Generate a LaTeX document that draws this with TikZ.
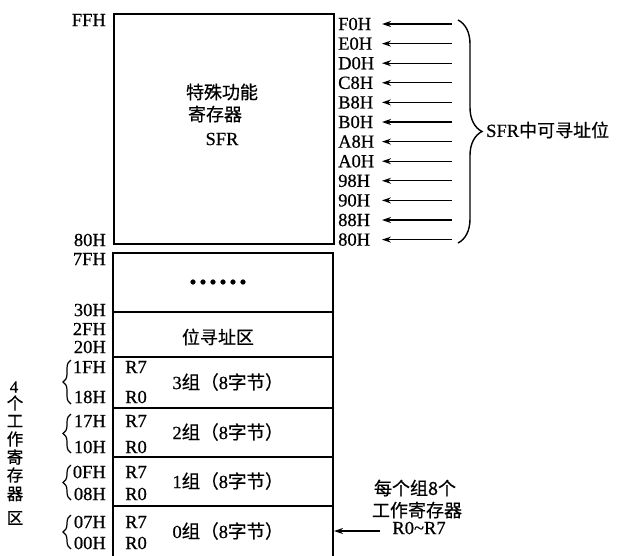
\documentclass[tikz,border=0pt]{standalone}
\usepackage{fontspec}
\setmainfont{Liberation Serif}[FakeBold=0.6]
\newfontfamily\cjk[FakeBold=0.6]{Noto Sans CJK SC}
\usetikzlibrary{arrows.meta,decorations.pathreplacing}
\begin{document}
\begin{tikzpicture}[x=1pt,y=-1pt,
  lat/.style={font=\fontsize{18.5}{20}\selectfont, inner sep=0pt},
  chn/.style={font=\fontsize{18}{20}\selectfont\cjk, inner sep=0pt},
  vch/.style={font=\fontsize{16.5}{17}\selectfont\cjk, inner sep=0pt},
  memline/.style={line width=2.2pt},
  arr/.style={-{Stealth[length=9pt,width=6pt]}, line width=1.3pt},
  bigbrace/.style={decorate, decoration={brace, amplitude=24pt}, line width=1.4pt},
  smallbrace/.style={decorate, decoration={brace, amplitude=8pt}, line width=1.2pt}]
\useasboundingbox (0,0) rectangle (620,555);

% upper box (SFR)
\node[draw, memline, minimum width=220pt, minimum height=230pt, anchor=north west, inner sep=0pt] (sfr) at (113,13) {};
\node[chn] (t1) at (222,92) {特殊功能};
\node[chn] (t2) at (215,114) {寄存器};
\node[lat] (t3) at (222,139) {SFR};

% lower box
\draw[memline] (113,556) -- (113,253) -- (333,253) -- (333,556);
\foreach \yy in {312,357,408,457,506} \draw[memline] (113,\yy) -- (333,\yy);

\node[inner sep=0pt, font=\fontsize{30}{30}\bfseries] (dots) at (218,282) {.\hspace{2.5pt}.\hspace{2.5pt}.\hspace{2.5pt}.\hspace{2.5pt}.\hspace{2.5pt}.};
\node[chn] (bit) at (218,337) {位寻址区};

\node[lat] (g3) at (228,382) {3{\cjk 组（}8{\cjk 字节）}};
\node[lat] (g2) at (228,432) {2{\cjk 组（}8{\cjk 字节）}};
\node[lat] (g1) at (228,481) {1{\cjk 组（}8{\cjk 字节）}};
\node[lat] (g0) at (228,531) {0{\cjk 组（}8{\cjk 字节）}};

\foreach \a/\b/\n in {367/397/3,421/447/2,472/494/1,522/543/0}{
  \node[lat] (r7\n) at (136,\a) {R7};
  \node[lat] (r0\n) at (136,\b) {R0};
}

% left address labels
\node[lat, anchor=east] (aFF) at (106,20) {FFH};
\node[lat, anchor=east] (a80) at (106,240) {80H};
\node[lat, anchor=east] (a7F) at (106,259) {7FH};
\node[lat, anchor=east] (a30) at (106,310) {30H};
\node[lat, anchor=east] (a2F) at (106,329) {2FH};
\node[lat, anchor=east] (a20) at (106,347) {20H};
\node[lat, anchor=east] (a1F) at (106,367) {1FH};
\node[lat, anchor=east] (a18) at (106,397) {18H};
\node[lat, anchor=east] (a17) at (106,421) {17H};
\node[lat, anchor=east] (a10) at (106,447) {10H};
\node[lat, anchor=east] (a0F) at (106,472) {0FH};
\node[lat, anchor=east] (a08) at (106,494) {08H};
\node[lat, anchor=east] (a07) at (106,522) {07H};
\node[lat, anchor=east] (a00) at (106,543) {00H};

% small braces
\draw[smallbrace] (71,404) -- (71,360);
\draw[smallbrace] (71,453) -- (71,414);
\draw[smallbrace] (71,500) -- (71,465);
\draw[smallbrace] (71,549) -- (71,515);

% vertical text
\node[lat, font=\fontsize{17}{17}\selectfont] (v0) at (14,387) {4};
\node[vch] (v1) at (15,403) {个};
\node[vch] (v2) at (15,421) {工};
\node[vch] (v3) at (15,439) {作};
\node[vch] (v4) at (15,457) {寄};
\node[vch] (v5) at (15,475) {存};
\node[vch] (v6) at (15,494) {器};
\node[vch] (v7) at (15,518) {区};

% right SFR bit-addressable labels
\foreach \lab [count=\i from 0] in {F0H,E0H,D0H,C8H,B8H,B0H,A8H,A0H,98H,90H,88H,80H}{
  \pgfmathsetmacro{\yy}{24+19.6*\i}
  \node[lat, anchor=west] (s\i) at (338,\yy) {\lab};
  \coordinate (st\i) at (452,\yy);
  \coordinate (sh\i) at (382,\yy);
  \draw[arr] (st\i) -- (sh\i);
}
\draw[bigbrace] (458,20) -- (458,243);
\node[anchor=west, inner sep=0pt] (sfrbit) at (486,130) {\fontsize{18.5}{20}\selectfont SFR{\cjk\fontsize{18}{20}\selectfont 中可寻址位}};

% bottom annotation
\node[chn] (n1) at (415,488) {每个组8个};
\node[chn] (n2) at (417,510) {工作寄存器};
\node[lat] (n3) at (419,528) {R0\char`~R7};
\coordinate (nt) at (380,531);
\coordinate (ne) at (334,531);
\draw[arr] (nt) -- (ne);
\end{tikzpicture}
\end{document}
